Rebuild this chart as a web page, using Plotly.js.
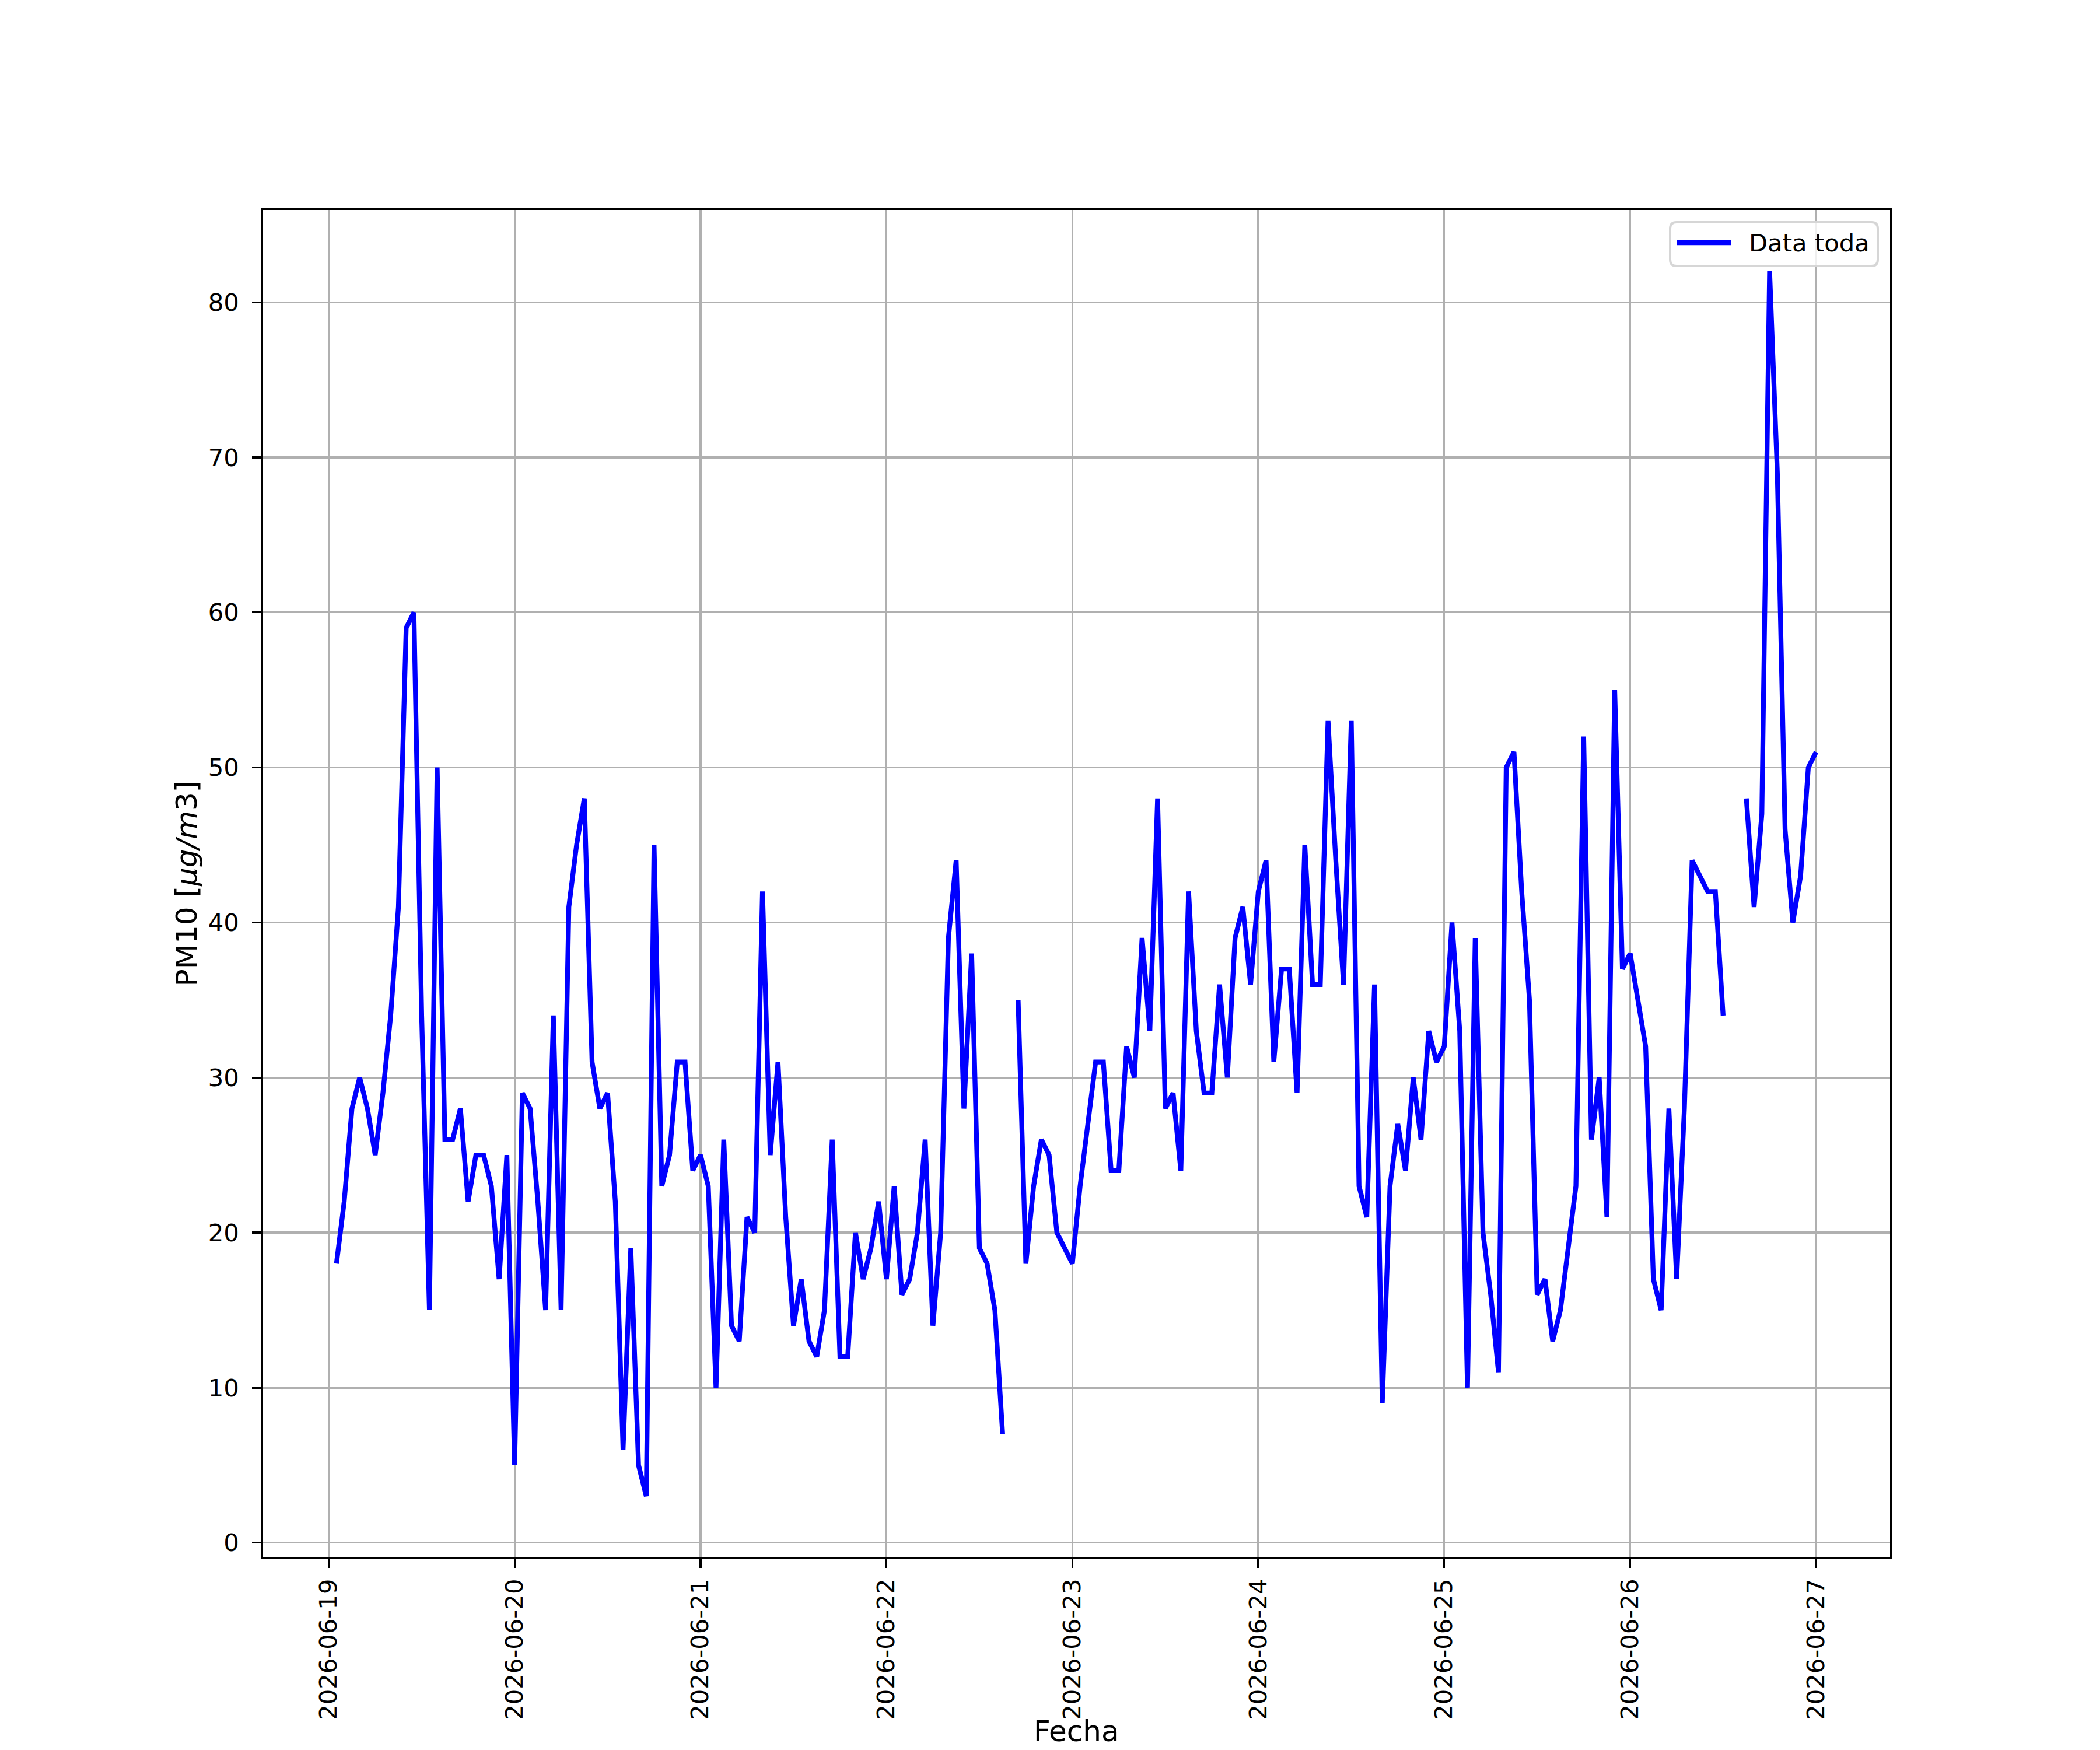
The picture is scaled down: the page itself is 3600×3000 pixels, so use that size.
<!DOCTYPE html>
<html>
<head>
<meta charset="utf-8">
<script src="https://cdn.plot.ly/plotly-3.0.1.min.js"></script>
<style>
  html, body { margin: 0; padding: 0; background: #ffffff; }
  #chart { width: 3600px; height: 3000px; }
</style>
</head>
<body>
<div id="chart"></div>
<script>
// Hourly PM10 values, one array per day (first day starts at 01:00)
const startTime = '2026-06-19T01:00:00';
const day19 = [18, 22, 28, 30, 28, 25, 29, 34, 41, 59, 60, 34, 15, 50, 26, 26, 28, 22, 25, 25, 23, 17, 25];
const day20 = [5, 29, 28, 22, 15, 34, 15, 41, 45, 48, 31, 28, 29, 22, 6, 19, 5, 3, 45, 23, 25, 31, 31, 24];
const day21 = [25, 23, 10, 26, 14, 13, 21, 20, 42, 25, 31, 21, 14, 17, 13, 12, 15, 26, 12, 12, 20, 17, 19, 22];
const day22 = [17, 23, 16, 17, 20, 26, 14, 20, 39, 44, 28, 38, 19, 18, 15, 7, null, 35, 18, 23, 26, 25, 20, 19];
const day23 = [18, 23, 27, 31, 31, 24, 24, 32, 30, 39, 33, 48, 28, 29, 24, 42, 33, 29, 29, 36, 30, 39, 41, 36];
const day24 = [42, 44, 31, 37, 37, 29, 45, 36, 36, 53, 44, 36, 53, 23, 21, 36, 9, 23, 27, 24, 30, 26, 33, 31];
const day25 = [32, 40, 33, 10, 39, 20, 16, 11, 50, 51, 42, 35, 16, 17, 13, 15, 19, 23, 52, 26, 30, 21, 55, 37];
const day26 = [38, 35, 32, 17, 15, 28, 17, 28, 44, 43, 42, 42, 34, null, null, 48, 41, 47, 82, 69, 46, 40, 43, 50];
const day27 = [51];

const seriesName = 'Data toda';
const xTitle = 'Fecha';
const yTitle = 'PM10 [<i>μg/m</i>3]';
const yTicks = [0, 10, 20, 30, 40, 50, 60, 70, 80];
const xTickDates = ['2026-06-19', '2026-06-20', '2026-06-21', '2026-06-22', '2026-06-23',
                    '2026-06-24', '2026-06-25', '2026-06-26', '2026-06-27'];

const values = [].concat(day19, day20, day21, day22, day23, day24, day25, day26, day27);

function pad(n) { return (n < 10 ? '0' : '') + n; }
const t0 = new Date(startTime + 'Z').getTime();
const times = values.map(function (_, i) {
  const d = new Date(t0 + i * 3600000);
  return d.getUTCFullYear() + '-' + pad(d.getUTCMonth() + 1) + '-' + pad(d.getUTCDate()) +
         ' ' + pad(d.getUTCHours()) + ':00:00';
});

const LINE_COLOR = '#0000ff';
const LINE_W = 8.3;
const trace = {
  x: times,
  y: values,
  type: 'scatter',
  mode: 'lines',
  name: seriesName,
  connectgaps: false,
  showlegend: false,
  line: { color: LINE_COLOR, width: LINE_W }
};

// Plot area in pixels (for the matplotlib-style legend box and x title)
const M = { l: 450, r: 360, t: 360, b: 330 };
const W = 3600, H = 3000;
const PW = W - M.l - M.r, PH = H - M.t - M.b;
function px(xp) { return (xp - M.l) / PW; }
function py(yp) { return (H - M.b - yp) / PH; }

// legend box geometry (pixels)
const LB = { left: 2863, right: 3219, top: 381, bottom: 456, r: 11 };
const rx = LB.r / PW, ry = LB.r / PH;
const bx0 = px(LB.left), bx1 = px(LB.right), by1 = py(LB.top), by0 = py(LB.bottom);
const boxPath = 'M' + (bx0 + rx) + ',' + by1 +
  ' L' + (bx1 - rx) + ',' + by1 + ' Q' + bx1 + ',' + by1 + ' ' + bx1 + ',' + (by1 - ry) +
  ' L' + bx1 + ',' + (by0 + ry) + ' Q' + bx1 + ',' + by0 + ' ' + (bx1 - rx) + ',' + by0 +
  ' L' + (bx0 + rx) + ',' + by0 + ' Q' + bx0 + ',' + by0 + ' ' + bx0 + ',' + (by0 + ry) +
  ' L' + bx0 + ',' + (by1 - ry) + ' Q' + bx0 + ',' + by1 + ' ' + (bx0 + rx) + ',' + by1 + ' Z';
const legendMidY = py(416);

const FONT = 'DejaVu Sans, sans-serif';
const layout = {
  width: W,
  height: H,
  paper_bgcolor: '#ffffff',
  plot_bgcolor: '#ffffff',
  margin: { l: M.l, r: M.r, t: M.t, b: M.b, pad: 0 },
  font: { family: FONT, size: 41.7, color: '#000000' },
  showlegend: false,
  shapes: [
    { type: 'path', xref: 'paper', yref: 'paper', path: boxPath, layer: 'above',
      fillcolor: 'rgba(255,255,255,0.8)', line: { color: '#d6d6d6', width: 4 } },
    { type: 'line', xref: 'paper', yref: 'paper', layer: 'above',
      x0: px(2875), x1: px(2967), y0: legendMidY, y1: legendMidY,
      line: { color: LINE_COLOR, width: LINE_W } }
  ],
  annotations: [
    { xref: 'paper', yref: 'paper', x: px(2996), y: legendMidY, xanchor: 'left', yanchor: 'middle',
      text: seriesName, showarrow: false, font: { family: FONT, size: 41.7, color: '#000000' } },
    { xref: 'paper', yref: 'paper', x: 0.5, y: py(2998), xanchor: 'center', yanchor: 'bottom',
      text: xTitle, showarrow: false, borderpad: 0,
      font: { family: FONT, size: 50, color: '#000000' } }
  ],
  xaxis: {
    type: 'date',
    range: ['2026-06-18 15:27:00', '2026-06-27 09:33:00'],
    tickmode: 'array',
    tickvals: xTickDates,
    ticktext: xTickDates,
    tickangle: -90,
    ticks: 'outside',
    ticklen: 14.6,
    tickwidth: 3.3,
    tickcolor: '#000000',
    ticklabelstandoff: 2,
    showline: true,
    linecolor: '#000000',
    linewidth: 3.3,
    mirror: true,
    showgrid: true,
    gridcolor: '#b0b0b0',
    gridwidth: 3.3,
    zeroline: false,
    automargin: false,
    tickfont: { family: FONT, size: 41.7, color: '#000000' }
  },
  yaxis: {
    range: [-0.95, 85.95],
    tickmode: 'array',
    tickvals: yTicks,
    ticktext: yTicks.map(String),
    ticks: 'outside',
    ticklen: 14.6,
    tickwidth: 3.3,
    tickcolor: '#000000',
    ticklabelstandoff: 14,
    showline: true,
    linecolor: '#000000',
    linewidth: 3.3,
    mirror: true,
    showgrid: true,
    gridcolor: '#b0b0b0',
    gridwidth: 3.3,
    zeroline: false,
    automargin: false,
    tickfont: { family: FONT, size: 41.7, color: '#000000' },
    title: { text: yTitle, font: { family: FONT, size: 50, color: '#000000' }, standoff: 4 }
  }
};

Plotly.newPlot('chart', [trace], layout, { staticPlot: true, displayModeBar: false });
</script>
</body>
</html>
